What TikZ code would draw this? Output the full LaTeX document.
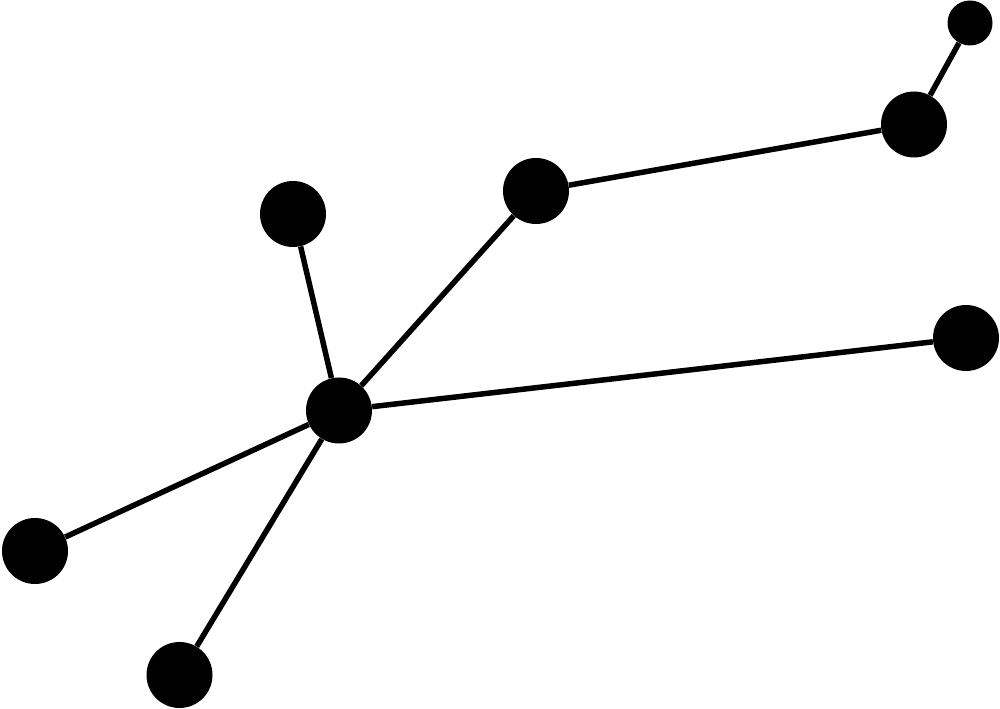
\documentclass[tikz,border=0pt]{standalone}
\usepackage{tikz}
\tikzstyle{star} = [circle, fill=black, inner sep=0pt, minimum size=1.32cm]
\tikzstyle{smallstar} = [circle, fill=black, inner sep=0pt, minimum size=0.9cm]
\tikzstyle{link} = [line width=0.11cm, black]

\begin{document}
\begin{tikzpicture}

	\useasboundingbox (0,0) rectangle (20,14.18);

	% Stars
	\node (hub) [star] at (6.78, 5.97) {};
	\node (star_upleft) [star] at (5.86, 9.90) {};
	\node (star_mid) [star] at (10.72, 10.36) {};
	\node (star_upright) [star] at (18.28, 11.69) {};
	\node (star_tip) [smallstar] at (19.40, 13.72) {};
	\node (star_east) [star] at (19.32, 7.42) {};
	\node (star_west) [star] at (0.70, 3.16) {};
	\node (star_south) [star] at (3.59, 0.68) {};

	% Links
	\draw[link] (hub) -- (star_upleft);
	\draw[link] (hub) -- (star_mid);
	\draw[link] (star_mid) -- (star_upright);
	\draw[link] (star_upright) -- (star_tip);
	\draw[link] (hub) -- (star_east);
	\draw[link] (hub) -- (star_west);
	\draw[link] (hub) -- (star_south);

\end{tikzpicture}
\end{document}
